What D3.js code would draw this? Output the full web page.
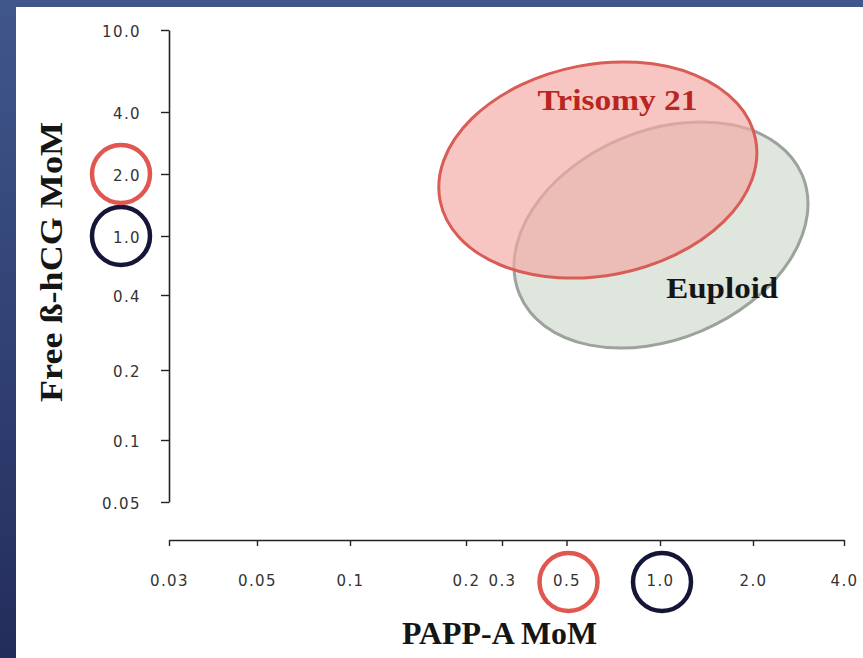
<!DOCTYPE html>
<html>
<head>
<meta charset="utf-8">
<script src="https://cdn.jsdelivr.net/npm/d3@7"></script>
<style>
  html, body { margin: 0; padding: 0; background: #fff; }
  svg { display: block; }
</style>
</head>
<body>
<svg id="chart" width="863" height="658"></svg>
<script>
// ---------------- data ----------------
const xTicks = [0.03, 0.05, 0.1, 0.2, 0.3, 0.5, 1, 2, 4];
const xTickLabels = ["0.03", "0.05", "0.1", "0.2", "0.3", "0.5", "1.0", "2.0", "4.0"];
const yTicks = [10, 4, 2, 1, 0.4, 0.2, 0.1, 0.05];
const yTickLabels = ["10.0", "4.0", "2.0", "1.0", "0.4", "0.2", "0.1", "0.05"];

const groups = ["Euploid", "Trisomy 21"];
// extent of each distribution ellipse (MoM) and its orientation (degrees)
const pappMin = [0.33, 0.17];
const pappMax = [3.04, 2.06];
const hcgMin = [0.245, 0.52];
const hcgMax = [3.58, 7.0];
const tiltDeg = [23, 11];
// label anchor for each group (MoM)
const labelPapp = [1.59, 0.73];
const labelHcg = [0.39, 4.1];

// highlighted axis values (median 1.0 for euploid, shifted values for trisomy 21)
const highlightPapp = [1.0, 0.5];
const highlightHcg = [1.0, 2.0];

// ---------------- layout / style ----------------
const W = 863, H = 658;
const xAxisPx = [169, 257, 350, 466, 502, 566.5, 660, 753, 844]; // hand-drawn axis calibration
const yAxisPx = [30, 112, 174, 236, 295, 370, 440, 502];
const xAxisY = 540, yAxisX = 169;
const fillColors = ["#dee6de", "rgb(243,169,165)"];
const fillOpacity = [1, 0.68];
const strokeColors = ["#9da29d", "#d95c56"];
const labelColors = ["#151515", "#b8261f"];
const labelWeights = ["bold", "bold"];
const labelLengths = [112, 160];
const highlightColors = ["#15153a", "#e0574f"];

const svg = d3.select("#chart");
const defs = svg.append("defs");
const grad = defs.append("linearGradient").attr("id", "frame")
  .attr("x1", 0).attr("y1", 0).attr("x2", 0).attr("y2", 1);
grad.append("stop").attr("offset", 0).attr("stop-color", "#40578c");
grad.append("stop").attr("offset", 1).attr("stop-color", "#232d5c");
svg.append("rect").attr("width", W).attr("height", H).attr("fill", "url(#frame)");
svg.append("rect").attr("x", 16).attr("y", 7).attr("width", W - 16).attr("height", H - 7).attr("fill", "#fff");

const x = d3.scaleLog().domain(xTicks).range(xAxisPx);
const y = d3.scaleLog().domain(yTicks).range(yAxisPx);

// ---------------- ellipses ----------------
const ell = svg.append("g");
groups.forEach((g, i) => {
  const x0 = x(pappMin[i]), x1 = x(pappMax[i]);
  const y0 = y(hcgMax[i]), y1 = y(hcgMin[i]);
  const cx = (x0 + x1) / 2, cy = (y0 + y1) / 2;
  const hw = (x1 - x0) / 2, hh = (y1 - y0) / 2;
  const t = tiltDeg[i] * Math.PI / 180;
  const c2 = Math.cos(t) ** 2, s2 = Math.sin(t) ** 2, cd = Math.cos(2 * t);
  const a = Math.sqrt((hw * hw * c2 - hh * hh * s2) / cd);
  const b = Math.sqrt((hh * hh * c2 - hw * hw * s2) / cd);
  ell.append("ellipse")
    .attr("transform", `translate(${cx},${cy}) rotate(${-tiltDeg[i]})`)
    .attr("rx", a).attr("ry", b)
    .attr("fill", fillColors[i]).attr("fill-opacity", fillOpacity[i])
    .attr("stroke", strokeColors[i]).attr("stroke-width", 3);
});
groups.forEach((g, i) => {
  svg.append("text")
    .attr("x", x(labelPapp[i])).attr("y", y(labelHcg[i]))
    .attr("text-anchor", "middle")
    .attr("font-family", "'Liberation Serif', 'DejaVu Serif', serif")
    .attr("font-size", 30)
    .attr("font-weight", labelWeights[i])
    .attr("fill", labelColors[i])
    .attr("textLength", labelLengths[i]).attr("lengthAdjust", "spacingAndGlyphs")
    .text(g);
});

// ---------------- axes ----------------
const tickFont = "'DejaVu Sans', Verdana, sans-serif";
const gx = svg.append("g").attr("transform", `translate(0,${xAxisY})`)
  .call(d3.axisBottom(x).tickValues(xTicks).tickFormat((d, i) => xTickLabels[i])
    .tickSize(6).tickSizeOuter(0).tickPadding(29));
const gy = svg.append("g").attr("transform", `translate(${yAxisX},0)`)
  .call(d3.axisLeft(y).tickValues(yTicks).tickFormat((d, i) => yTickLabels[i])
    .tickSize(8).tickSizeOuter(0).tickPadding(20));
[gx, gy].forEach(g => {
  g.select(".domain").attr("stroke", "#222").attr("stroke-width", 1.6);
  g.selectAll(".tick line").attr("stroke", "#222").attr("stroke-width", 1.4);
  g.selectAll(".tick text").attr("font-family", tickFont).attr("font-size", 15)
    .attr("fill", "#333").attr("letter-spacing", 1.4);
});
gy.selectAll(".tick text").attr("dy", "0.45em");

// highlight circles round the tick labels
highlightPapp.forEach((v, i) => {
  svg.append("circle").attr("cx", x(v) + 2).attr("cy", xAxisY + 42).attr("r", 29)
    .attr("fill", "none").attr("stroke", highlightColors[i]).attr("stroke-width", 4.5);
});
highlightHcg.forEach((v, i) => {
  svg.append("circle").attr("cx", yAxisX - 48).attr("cy", y(v)).attr("r", 29)
    .attr("fill", "none").attr("stroke", highlightColors[i]).attr("stroke-width", 4.5);
});

// ---------------- titles ----------------
svg.append("text")
  .attr("x", 499.5).attr("y", 644)
  .attr("text-anchor", "middle")
  .attr("font-family", "'Liberation Serif', 'DejaVu Serif', serif")
  .attr("font-size", 32).attr("font-weight", "bold").attr("fill", "#151515")
  .attr("textLength", 195).attr("lengthAdjust", "spacingAndGlyphs")
  .text("PAPP-A MoM");
svg.append("text")
  .attr("transform", "translate(62,262) rotate(-90)")
  .attr("text-anchor", "middle")
  .attr("font-family", "'Liberation Serif', 'DejaVu Serif', serif")
  .attr("font-size", 32).attr("font-weight", "bold").attr("fill", "#151515")
  .attr("textLength", 280).attr("lengthAdjust", "spacingAndGlyphs")
  .text("Free ß-hCG MoM");
</script>
</body>
</html>
